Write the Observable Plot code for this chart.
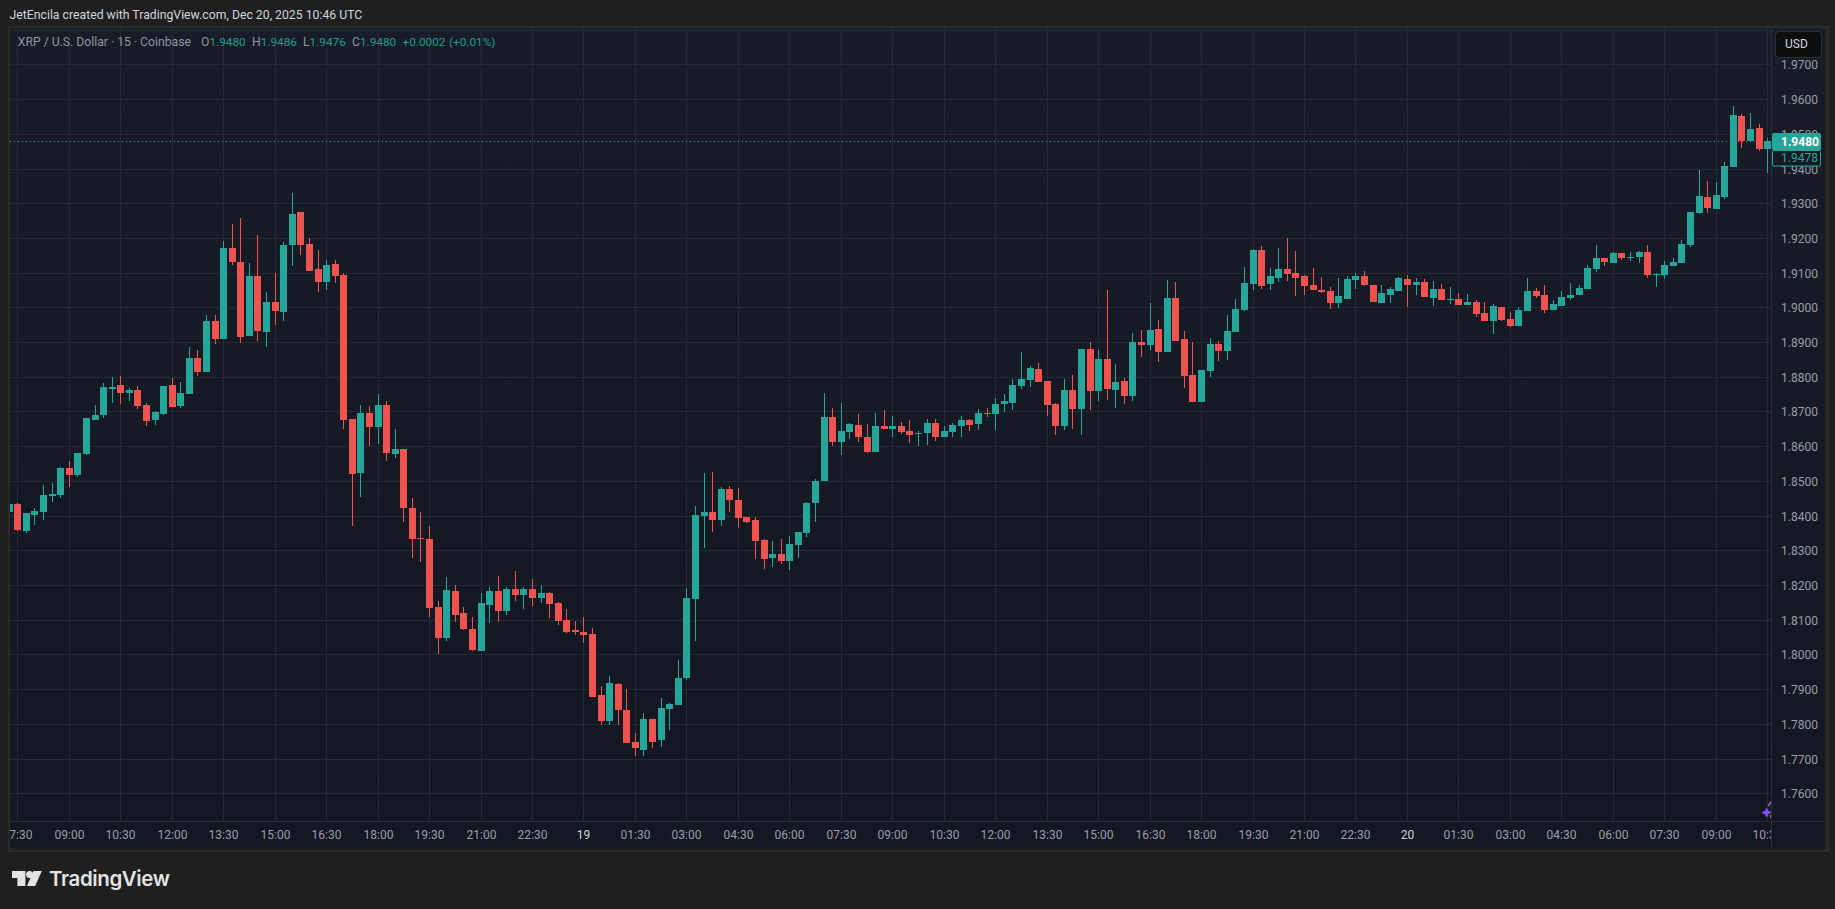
<!DOCTYPE html>
<html>
<head>
<meta charset="utf-8">
<script src="https://cdn.jsdelivr.net/npm/d3@7"></script>
<script src="https://cdn.jsdelivr.net/npm/@observablehq/plot@0.6"></script>
<style>
html,body{margin:0;padding:0;background:#1f1f1f;}
body{position:relative;width:1835px;height:909px;overflow:hidden;font-family:Roboto,sans-serif;}
#credit{position:absolute;left:9.5px;top:7px;font-size:12.25px;line-height:16px;color:#d1d4dc;white-space:nowrap;}
#panel{position:absolute;left:8px;top:26px;width:1816px;height:822px;border:2px solid #2a2a2a;border-right-width:3px;}
#panel svg{display:block;}
.leg{position:absolute;top:34px;font-size:12.2px;line-height:16px;white-space:nowrap;color:#8f95a1;}
.up{color:#1f9c90;font-size:11.8px;}
#usd{position:absolute;left:1775px;top:31px;width:45px;height:25px;box-sizing:content-box;border:1px solid #2e2f33;border-radius:4px;background:#0e0e0f;color:#d1d4dc;font-size:12px;line-height:25px;padding:0;text-indent:9px;}
#brand{position:absolute;left:12px;top:865px;height:28px;color:#e3e3e3;}
#brand svg{position:absolute;left:0;top:6px;}
#brand span{position:absolute;left:37px;top:0;font-family:Inter,sans-serif;font-weight:600;font-size:20.5px;line-height:28px;letter-spacing:-.4px;white-space:nowrap;}
</style>
</head>
<body>
<div id="credit">JetEncila created with TradingView.com, Dec 20, 2025 10:46 UTC</div>
<div id="panel"></div>
<div class="leg" style="left:17.8px">XRP / U.S. Dollar · 15 · Coinbase</div>
<div class="leg" style="left:201px">O<span class="up">1.9480</span></div>
<div class="leg" style="left:252px">H<span class="up">1.9486</span></div>
<div class="leg" style="left:303px">L<span class="up">1.9476</span></div>
<div class="leg" style="left:352px">C<span class="up">1.9480</span></div>
<div class="leg up" style="left:402.5px">+0.0002</div>
<div class="leg up" style="left:449px">(+0.01%)</div>
<div id="usd">USD</div>
<div id="brand">
<svg width="30" height="15" viewBox="0 0 30 15" fill="#e3e3e3"><polygon points="0,0 13.4,0 13.4,15 5.4,15 5.4,7 0,7"/><circle cx="17.6" cy="3.5" r="3.5"/><polygon points="21.4,0 29.8,0 23.2,15 15,15"/></svg>
<span>TradingView</span>
</div>
<script>
const barStart = Date.UTC(2025, 11, 18, 7, 15);
const barMinutes = 15;
const opens = [
1.8410,1.8433,1.8355,1.8401,1.8410,1.8456,1.8459,1.8537,1.8516,1.8577,
1.8675,1.8689,1.8764,1.8776,1.8753,1.8762,1.8718,1.8675,1.8692,1.8776,
1.8715,1.8750,1.8854,1.8814,1.8961,1.8909,1.9171,1.9131,1.8917,1.9090,
1.8929,1.9015,1.8987,1.9180,1.9275,1.9183,1.9111,1.9073,1.9125,1.9093,
1.8678,1.8522,1.8695,1.8655,1.8718,1.8577,1.8591,1.8421,1.8335,1.8332,
1.8136,1.8046,1.8182,1.8118,1.8072,1.8009,1.8141,1.8182,1.8124,1.8188,
1.8170,1.8188,1.8162,1.8176,1.8147,1.8098,1.8069,1.8066,1.8058,1.7882,
1.7807,1.7916,1.7841,1.7749,1.7726,1.7813,1.7752,1.7844,1.7853,1.7931,
1.8159,1.8398,1.8410,1.8387,1.8476,1.8444,1.8395,1.8387,1.8329,1.8277,
1.8289,1.8268,1.8314,1.8349,1.8436,1.8499,1.8684,1.8612,1.8640,1.8661,
1.8626,1.8583,1.8658,1.8649,1.8658,1.8643,1.8635,1.8638,1.8666,1.8626,
1.8640,1.8658,1.8675,1.8663,1.8695,1.8692,1.8721,1.8724,1.8773,1.8790,
1.8822,1.8788,1.8721,1.8658,1.8762,1.8707,1.8880,1.8759,1.8851,1.8762,
1.8788,1.8744,1.8900,1.8891,1.8938,1.8871,1.9027,1.8909,1.8805,1.8727,
1.8816,1.8894,1.8874,1.8930,1.8993,1.9068,1.9166,1.9068,1.9086,1.9112,
1.9100,1.9091,1.9065,1.9051,1.9048,1.9013,1.9025,1.9080,1.9091,1.9065,
1.9013,1.9037,1.9048,1.9083,1.9065,1.9074,1.9028,1.9054,1.9022,1.9025,
1.9008,1.9016,1.8985,1.8962,1.9002,1.8967,1.8947,1.8990,1.9048,1.9037,
1.8993,1.9005,1.9028,1.9037,1.9054,1.9112,1.9142,1.9128,1.9157,1.9142,
1.9145,1.9160,1.9093,1.9093,1.9119,1.9128,1.9180,1.9272,1.9318,1.9284,
1.9318,1.9405,1.9552,1.9480,1.9517,1.9457];
const highs = [
1.8433,1.8436,1.8407,1.8421,1.8488,1.8493,1.8539,1.8557,1.8580,1.8681,
1.8718,1.8782,1.8799,1.8802,1.8767,1.8773,1.8724,1.8701,1.8773,1.8796,
1.8785,1.8886,1.8877,1.8978,1.8978,1.9191,1.9240,1.9258,1.9128,1.9209,
1.9044,1.9099,1.9188,1.9330,1.9275,1.9200,1.9165,1.9137,1.9137,1.9099,
1.8678,1.8718,1.8715,1.8750,1.8730,1.8649,1.8591,1.8450,1.8410,1.8369,
1.8153,1.8222,1.8199,1.8136,1.8107,1.8176,1.8193,1.8225,1.8193,1.8239,
1.8193,1.8216,1.8199,1.8179,1.8150,1.8130,1.8095,1.8107,1.8075,1.7908,
1.7937,1.7919,1.7899,1.7775,1.7830,1.7813,1.7873,1.7859,1.7983,1.8190,
1.8427,1.8522,1.8525,1.8482,1.8485,1.8479,1.8395,1.8395,1.8332,1.8326,
1.8332,1.8340,1.8352,1.8439,1.8505,1.8753,1.8710,1.8724,1.8666,1.8692,
1.8663,1.8695,1.8704,1.8687,1.8669,1.8675,1.8643,1.8678,1.8678,1.8658,
1.8666,1.8687,1.8678,1.8707,1.8710,1.8738,1.8750,1.8793,1.8871,1.8831,
1.8839,1.8788,1.8724,1.8793,1.8805,1.8880,1.8900,1.8877,1.9050,1.8837,
1.8796,1.8926,1.8935,1.9013,1.8963,1.9079,1.9073,1.8932,1.8900,1.8819,
1.8912,1.8903,1.8978,1.9025,1.9117,1.9169,1.9178,1.9114,1.9172,1.9201,
1.9161,1.9094,1.9114,1.9088,1.9060,1.9086,1.9091,1.9100,1.9106,1.9065,
1.9065,1.9060,1.9088,1.9094,1.9086,1.9083,1.9077,1.9068,1.9060,1.9042,
1.9039,1.9022,1.9016,1.9011,1.9002,1.8988,1.9002,1.9086,1.9057,1.9065,
1.9022,1.9048,1.9071,1.9065,1.9123,1.9181,1.9142,1.9160,1.9157,1.9160,
1.9163,1.9180,1.9099,1.9134,1.9142,1.9194,1.9275,1.9396,1.9364,1.9362,
1.9419,1.9581,1.9558,1.9561,1.9529,1.9488];
const lows = [
1.8410,1.8355,1.8349,1.8372,1.8387,1.8439,1.8450,1.8482,1.8511,1.8574,
1.8675,1.8681,1.8724,1.8721,1.8730,1.8707,1.8658,1.8661,1.8689,1.8713,
1.8710,1.8750,1.8802,1.8814,1.8894,1.8909,1.9122,1.8897,1.8917,1.8903,
1.8886,1.8949,1.8961,1.9119,1.9151,1.9105,1.9044,1.9050,1.9070,1.8649,
1.8369,1.8453,1.8600,1.8606,1.8557,1.8565,1.8381,1.8277,1.8265,1.8107,
1.8000,1.8038,1.8092,1.8069,1.8009,1.8009,1.8090,1.8092,1.8113,1.8153,
1.8130,1.8139,1.8147,1.8104,1.8084,1.8061,1.8055,1.8032,1.7876,1.7798,
1.7798,1.7798,1.7746,1.7706,1.7706,1.7729,1.7732,1.7781,1.7853,1.7925,
1.8038,1.8306,1.8352,1.8369,1.8410,1.8364,1.8378,1.8274,1.8245,1.8251,
1.8260,1.8242,1.8277,1.8338,1.8381,1.8499,1.8600,1.8574,1.8620,1.8612,
1.8580,1.8583,1.8649,1.8626,1.8635,1.8609,1.8600,1.8603,1.8614,1.8626,
1.8626,1.8626,1.8643,1.8646,1.8684,1.8646,1.8698,1.8704,1.8764,1.8770,
1.8785,1.8687,1.8632,1.8646,1.8649,1.8632,1.8704,1.8730,1.8733,1.8710,
1.8721,1.8730,1.8857,1.8877,1.8842,1.8871,1.8903,1.8767,1.8727,1.8727,
1.8799,1.8845,1.8848,1.8930,1.8990,1.9051,1.9054,1.9051,1.9074,1.9077,
1.9034,1.9037,1.9051,1.9042,1.8996,1.8999,1.9025,1.9054,1.9063,1.9016,
1.9013,1.9013,1.9048,1.9002,1.9037,1.9031,1.9005,1.9022,1.9011,1.9008,
1.9008,1.8973,1.8962,1.8924,1.8962,1.8944,1.8947,1.8990,1.9028,1.8985,
1.8993,1.9005,1.9022,1.9037,1.9054,1.9103,1.9119,1.9128,1.9137,1.9134,
1.9128,1.9085,1.9059,1.9082,1.9119,1.9128,1.9174,1.9269,1.9272,1.9284,
1.9313,1.9405,1.9460,1.9480,1.9451,1.9388];
const closes = [
1.8433,1.8358,1.8407,1.8413,1.8459,1.8462,1.8537,1.8516,1.8580,1.8681,
1.8689,1.8770,1.8770,1.8753,1.8762,1.8715,1.8672,1.8698,1.8773,1.8713,
1.8753,1.8854,1.8814,1.8961,1.8909,1.9171,1.9131,1.8914,1.9090,1.8932,
1.9015,1.8989,1.9180,1.9269,1.9180,1.9105,1.9073,1.9122,1.9090,1.8675,
1.8519,1.8695,1.8655,1.8718,1.8580,1.8591,1.8421,1.8332,1.8332,1.8133,
1.8046,1.8185,1.8115,1.8072,1.8012,1.8147,1.8182,1.8124,1.8188,1.8170,
1.8188,1.8162,1.8176,1.8144,1.8095,1.8066,1.8066,1.8055,1.7876,1.7807,
1.7919,1.7839,1.7746,1.7729,1.7815,1.7749,1.7847,1.7856,1.7931,1.8162,
1.8401,1.8410,1.8387,1.8476,1.8444,1.8392,1.8381,1.8326,1.8274,1.8289,
1.8268,1.8317,1.8352,1.8436,1.8499,1.8684,1.8612,1.8643,1.8663,1.8626,
1.8583,1.8658,1.8649,1.8658,1.8640,1.8632,1.8638,1.8666,1.8626,1.8643,
1.8661,1.8675,1.8661,1.8695,1.8692,1.8721,1.8730,1.8776,1.8793,1.8825,
1.8785,1.8718,1.8658,1.8762,1.8707,1.8880,1.8759,1.8851,1.8764,1.8785,
1.8744,1.8900,1.8891,1.8935,1.8871,1.9027,1.8903,1.8802,1.8727,1.8819,
1.8894,1.8874,1.8932,1.8996,1.9071,1.9166,1.9063,1.9091,1.9112,1.9097,
1.9086,1.9063,1.9051,1.9045,1.9013,1.9034,1.9083,1.9091,1.9065,1.9016,
1.9042,1.9054,1.9086,1.9065,1.9074,1.9031,1.9054,1.9022,1.9025,1.9008,
1.9016,1.8982,1.8962,1.9005,1.8964,1.8947,1.8993,1.9048,1.9034,1.8993,
1.9011,1.9031,1.9037,1.9057,1.9114,1.9143,1.9131,1.9157,1.9142,1.9145,
1.9160,1.9093,1.9096,1.9122,1.9131,1.9183,1.9275,1.9321,1.9287,1.9324,
1.9408,1.9555,1.9480,1.9514,1.9457,1.9480];
const timeLabels = ["07:30","09:00","10:30","12:00","13:30","15:00","16:30","18:00","19:30","21:00","22:30","19",
"01:30","03:00","04:30","06:00","07:30","09:00","10:30","12:00","13:30","15:00","16:30","18:00","19:30","21:00","22:30","20",
"01:30","03:00","04:30","06:00","07:30","09:00","10:30"];
const priceTicks = [1.76,1.77,1.78,1.79,1.80,1.81,1.82,1.83,1.84,1.85,1.86,1.87,1.88,1.89,1.90,1.91,1.92,1.93,1.94,1.95,1.96,1.97,1.98];
const lastPrice = 1.9480;
const countdownPrice = 1.9478;

const UP = "#26a69a", DOWN = "#ef5350", GRID = "#252933", TEXT = "#9a9ea8";
const bars = opens.map((open, i) => ({
  t: new Date(barStart + i * barMinutes * 60000),
  open, high: highs[i], low: lows[i], close: closes[i]
}));
const colorOf = d => d.close >= d.open ? UP : DOWN;
const timeTicks = timeLabels.map((label, i) => ({
  t: new Date(Date.UTC(2025, 11, 18, 7, 30) + i * 90 * 60000), label
}));
const barTime = n => new Date(Date.UTC(2025, 11, 18, 7, 30) + n * barMinutes * 60000);
const SVGNS = "http://www.w3.org/2000/svg";
const el = (name, attrs) => { const e = document.createElementNS(SVGNS, name); for (const k in attrs) e.setAttribute(k, attrs[k]); return e; };

const fourStar = {draw(ctx, size) {
  const r = Math.sqrt(size) * 0.6, q = r * 0.33;
  ctx.moveTo(0, -r); ctx.lineTo(q, -q); ctx.lineTo(r, 0); ctx.lineTo(q, q);
  ctx.lineTo(0, r); ctx.lineTo(-q, q); ctx.lineTo(-r, 0); ctx.lineTo(-q, -q); ctx.closePath();
}};

const chart = Plot.plot({
  width: 1814, height: 820,
  marginLeft: 0, marginRight: 53, marginTop: 0, marginBottom: 27,
  style: {background: "linear-gradient(#181c27,#131722)", fontFamily: "Roboto, sans-serif", fontSize: "12px", overflow: "hidden"},
  x: {type: "utc", domain: [new Date("2025-12-18T07:17:14Z"), new Date("2025-12-20T10:36:36Z")], axis: null, round: true},
  y: {domain: [1.7520, 1.9805], axis: null, round: true},
  color: {type: "identity"},
  marks: [
    Plot.ruleY(priceTicks, {y: d => d, stroke: GRID}),
    Plot.ruleX(timeTicks, {x: "t", stroke: GRID}),
    Plot.ruleY([lastPrice], {y: d => d, stroke: UP, strokeDasharray: "1,3", strokeWidth: 1}),
    Plot.ruleX(bars, {x: "t", y1: "low", y2: "high", stroke: colorOf, strokeWidth: 1, clip: "frame"}),
    Plot.ruleX(bars, {x: "t", y1: "open", y2: "close", stroke: colorOf, strokeWidth: 7, clip: "frame"}),
    Plot.line([{n: 204.09, p: 1.7566}, {n: 204.44, p: 1.7578}], {x: d => barTime(d.n), y: "p", stroke: "#c450d8", strokeWidth: 1.5, clip: "frame"}),
    Plot.line([{n: 204.27, p: 1.7537}, {n: 204.44, p: 1.7530}], {x: d => barTime(d.n), y: "p", stroke: "#c450d8", strokeWidth: 1.5, clip: "frame"}),
    Plot.dot([{n: 203.85, p: 1.7546}], {x: d => barTime(d.n), y: "p", symbol: fourStar, r: 5, fill: "#7c4dff", stroke: "none", clip: "frame"}),
    Plot.text(timeTicks, {x: "t", text: "label", frameAnchor: "bottom", lineAnchor: "middle", dy: 14,
      fill: d => d.label.length < 3 ? "#d1d4dc" : TEXT, fontWeight: d => d.label.length < 3 ? 700 : 400, fontSize: 12}),
    (index, scales, values, dim) => {
      const g = el("g", {});
      const fx = dim.width - dim.marginRight;
      const by = dim.height - dim.marginBottom;
      g.appendChild(el("rect", {x: fx, y: by, width: dim.marginRight, height: dim.marginBottom, fill: "#131722"}));
      g.appendChild(el("line", {x1: 0, x2: dim.width, y1: by + .5, y2: by + .5, stroke: "#2a2e39"}));
      g.appendChild(el("line", {x1: fx + .5, x2: fx + .5, y1: 0, y2: dim.height, stroke: "#2a2e39"}));
      return g;
    },
    Plot.text(priceTicks.slice(0, -1), {y: d => d, text: d => d.toFixed(4), frameAnchor: "right", textAnchor: "start", lineAnchor: "middle", dx: 9.5, dy: 0.5, fill: TEXT, fontSize: 12}),
    (index, scales, values, dim) => {
      const g = el("g", {});
      const fx = dim.width - dim.marginRight;
      const yy = scales.y(lastPrice);
      g.appendChild(el("rect", {x: fx + 1, y: yy - 8, width: 49, height: 17.5, rx: 2, fill: UP}));
      g.appendChild(el("rect", {x: fx + 1.5, y: yy + 9.5, width: 48, height: 15.5, rx: 1, fill: "#161a25", stroke: UP}));
      return g;
    },
    Plot.text([lastPrice], {y: d => d, text: d => d.toFixed(4), frameAnchor: "right", textAnchor: "start", lineAnchor: "middle", dx: 9.5, dy: 0.5, fill: "#ffffff", fontWeight: 700, fontSize: 12}),
    Plot.text([countdownPrice], {y: () => lastPrice, text: d => d.toFixed(4), frameAnchor: "right", textAnchor: "start", lineAnchor: "middle", dx: 9.5, dy: 17, fill: UP, fontSize: 12})
  ]
});
document.getElementById("panel").appendChild(chart);
</script>
</body>
</html>
